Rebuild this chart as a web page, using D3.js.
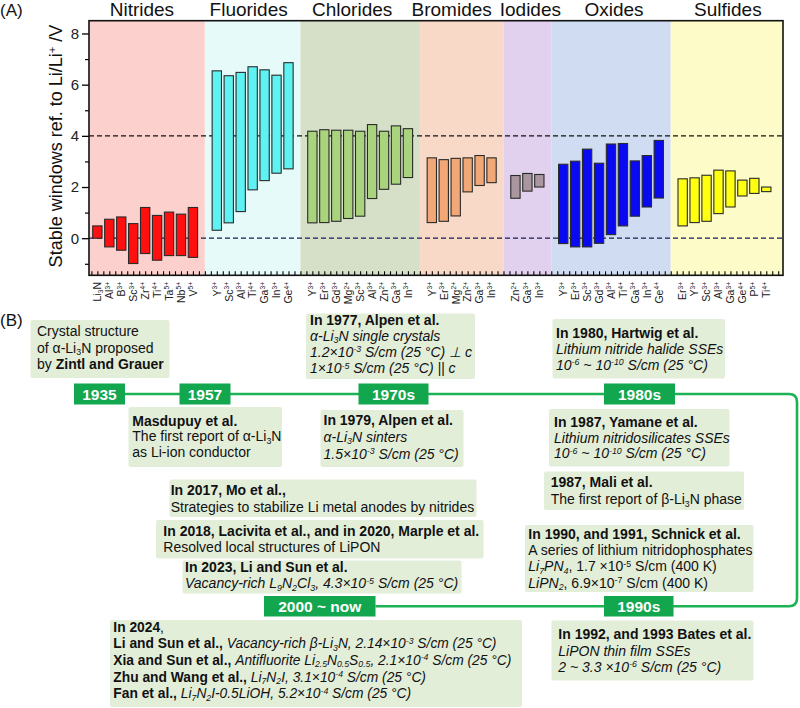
<!DOCTYPE html>
<html>
<head>
<meta charset="utf-8">
<script src="https://cdn.jsdelivr.net/npm/d3@7"></script>
<style>
  body { margin: 0; background: #fff; }
  svg text { font-family: "Liberation Sans", Arial, sans-serif; white-space: pre; }
</style>
</head>
<body>
<script>
// ---------- panel A data ----------
var groupNames = ["Nitrides", "Fluorides", "Chlorides", "Bromides", "Iodides", "Oxides", "Sulfides"];

var ions = [
    ["Li<sub>3</sub>N", "Al<sup>3+</sup>", "B<sup>3+</sup>", "Sc<sup>3+</sup>", "Zr<sup>4+</sup>", "Ti<sup>4+</sup>", "Ta<sup>5+</sup>", "Nb<sup>5+</sup>", "V<sup>5+</sup>"],
    ["Y<sup>3+</sup>", "Sc<sup>3+</sup>", "Al<sup>3+</sup>", "Ti<sup>4+</sup>", "Ga<sup>3+</sup>", "In<sup>3+</sup>", "Ge<sup>4+</sup>"],
    ["Y<sup>3+</sup>", "Er<sup>3+</sup>", "Gd<sup>3+</sup>", "Mg<sup>2+</sup>", "Sc<sup>3+</sup>", "Al<sup>3+</sup>", "Zn<sup>2+</sup>", "Ga<sup>3+</sup>", "In<sup>3+</sup>"],
    ["Y<sup>3+</sup>", "Er<sup>3+</sup>", "Mg<sup>2+</sup>", "Zn<sup>2+</sup>", "Ga<sup>3+</sup>", "In<sup>3+</sup>"],
    ["Zn<sup>2+</sup>", "Ga<sup>3+</sup>", "In<sup>3+</sup>"],
    ["Y<sup>3+</sup>", "Er<sup>3+</sup>", "Sc<sup>3+</sup>", "Gd<sup>3+</sup>", "Al<sup>3+</sup>", "Ti<sup>4+</sup>", "Ga<sup>3+</sup>", "In<sup>3+</sup>", "Ge<sup>4+</sup>"],
    ["Er<sup>3+</sup>", "Y<sup>3+</sup>", "Sc<sup>3+</sup>", "Al<sup>3+</sup>", "Ga<sup>3+</sup>", "Ge<sup>4+</sup>", "P<sup>5+</sup>", "Ti<sup>4+</sup>"]
];

// lower / upper limit of the stable window (V vs Li/Li+)
var windowLow = [
    [0.00, -0.34, -0.47, -0.99, -0.60, -0.86, -0.68, -0.68, -0.75],
    [0.31, 0.60, 1.04, 1.89, 2.25, 2.54, 2.71],
    [0.60, 0.61, 0.66, 0.77, 0.86, 1.55, 1.91, 2.11, 2.37],
    [0.61, 0.66, 0.87, 1.81, 2.06, 2.17],
    [1.56, 1.84, 2.00],
    [-0.21, -0.34, -0.34, -0.20, 0.14, 0.48, 0.86, 1.22, 1.57],
    [0.48, 0.61, 0.66, 0.96, 1.22, 1.65, 1.75, 1.82]
];
var windowHigh = [
    [0.48, 0.74, 0.83, 0.57, 1.20, 0.89, 1.02, 0.94, 1.20],
    [6.54, 6.35, 6.48, 6.70, 6.58, 6.37, 6.86],
    [4.18, 4.24, 4.22, 4.22, 4.18, 4.44, 4.18, 4.39, 4.28],
    [3.14, 3.07, 3.12, 3.14, 3.23, 3.14],
    [2.45, 2.53, 2.49],
    [2.89, 3.01, 3.48, 2.93, 3.68, 3.70, 3.02, 3.23, 3.82],
    [2.32, 2.36, 2.46, 2.66, 2.63, 2.27, 2.34, 2.00]
];
var yTicks = [0, 2, 4, 6, 8];
var yMinorTicks = [-1, 1, 3, 5, 7];
var refLines = [4, 0];

var groupBg = ["#fcd0cc", "#e6fbf9", "#d6e0c9", "#f8d8c6", "#e1d1ef", "#cfdcf1", "#fdfcc8"];
var groupFill = ["#ff1010", "#5ef2f2", "#a9d47d", "#f2a876", "#a9969f", "#0a0af0", "#ffff10"];
var titleShift = [-5, -4, -8, -10, 3, 3, 1];

// ---------- panel B data ----------
var periods = ["1935", "1957", "1970s", "1980s", "1990s", "2000 ~ now"];

var noteText = [
    ["Crystal structure", "of α-Li<sub>3</sub>N proposed", "by <b>Zintl and Grauer</b>"],
    ["<b>Masdupuy et al.</b>", "The first report of α-Li<sub>3</sub>N", "as Li-ion conductor"],
    ["<b>In 1977, Alpen et al.</b>", "<i>α-Li<sub>3</sub>N single crystals</i>", "<i>1.2×10<sup>-3</sup> S/cm (25 °C) ⊥ c</i>", "<i>1×10<sup>-5</sup> S/cm (25 °C) || c</i>"],
    ["<b>In 1979, Alpen et al.</b>", "<i>α-Li<sub>3</sub>N sinters</i>", "<i>1.5×10<sup>-3</sup> S/cm (25 °C)</i>"],
    ["<b>In 1980, Hartwig et al.</b>", "<i>Lithium nitride halide SSEs</i>", "<i>10<sup>-6</sup> ~ 10<sup>-10</sup> S/cm (25 °C)</i>"],
    ["<b>In 1987, Yamane et al.</b>", "<i>Lithium nitridosilicates SSEs</i>", "<i>10<sup>-6</sup> ~ 10<sup>-10</sup> S/cm (25 °C)</i>"],
    ["<b>1987, Mali et al.</b>", "The first report of β-Li<sub>3</sub>N phase"],
    ["<b>In 1990, and 1991, Schnick et al.</b>", "A series of lithium nitridophosphates", "<i>Li<sub>7</sub>PN<sub>4</sub></i>, 1.7 ×10<sup>-5</sup> S/cm (400 K)", "<i>LiPN<sub>2</sub></i>, 6.9×10<sup>-7</sup> S/cm (400 K)"],
    ["<b>In 1992, and 1993 Bates et al.</b>", "<i>LiPON thin film SSEs</i>", "<i>2 ~ 3.3 ×10<sup>-6</sup> S/cm (25 °C)</i>"],
    ["<b>In 2017, Mo et al.,</b>", "Strategies to stabilize Li metal anodes by nitrides"],
    ["<b>In 2018, Lacivita et al., and in 2020, Marple et al.</b>", "Resolved local structures of LiPON"],
    ["<b>In 2023, Li and Sun et al.</b>", "<i>Vacancy-rich L<sub>9</sub>N<sub>2</sub>Cl<sub>3</sub>, 4.3×10<sup>-5</sup> S/cm (25 °C)</i>"],
    ["<b>In 2024</b>,",
     "<b>Li and Sun et al.,</b> <i>Vacancy-rich β-Li<sub>3</sub>N, 2.14×10<sup>-3</sup> S/cm (25 °C)</i>",
     "<b>Xia and Sun et al.,</b> <i>Antifluorite Li<sub>2.5</sub>N<sub>0.5</sub>S<sub>0.5</sub>, 2.1×10<sup>-4</sup> S/cm (25 °C)</i>",
     "<b>Zhu and Wang et al.,</b> <i>Li<sub>7</sub>N<sub>2</sub>I, 3.1×10<sup>-4</sup> S/cm (25 °C)</i>",
     "<b>Fan et al.,</b> <i>Li<sub>7</sub>N<sub>2</sub>I-0.5LiOH, 5.2×10<sup>-4</sup> S/cm (25 °C)</i>"]
];

// layout of panel B (x, y, w, h)
var periodBoxes = [
    [74, 383.5, 51, 21], [179.5, 383.5, 51, 21], [358.5, 383.5, 70, 21],
    [604, 383.5, 71, 21], [604, 596, 69.5, 20.5], [264, 596, 111.5, 20.5]
];
// x, y, w, h, text x, first baseline, line step, font size
var noteBoxes = [
    [30.5, 320, 139, 58, 37, 335.7, 16.8, 14],
    [128.5, 407, 153.5, 60, 132.3, 425.7, 15.6, 14],
    [306, 313.5, 169, 65.5, 310, 324.5, 16.3, 14],
    [320.5, 410, 143, 57, 323.5, 424.5, 17, 14],
    [552.5, 319, 172.5, 59.5, 556, 338.3, 15.9, 14],
    [549, 409, 180.5, 57.5, 554, 426.7, 15.8, 14],
    [544, 471.5, 200, 38.5, 550.7, 487.3, 16.7, 14],
    [525, 525, 228.5, 67, 528.3, 538.5, 16.4, 14],
    [551.5, 620.5, 202, 60, 558.3, 639.3, 16.2, 14],
    [169.5, 479.5, 307, 37.5, 170.7, 495, 16.7, 14],
    [156, 520, 327.5, 38.5, 163.3, 536, 16.3, 14],
    [182.5, 560.5, 279, 33, 185, 571.7, 16.6, 14],
    [110, 620, 412, 87, 113.3, 631.5, 16.7, 13.8]
];

var width = 800, height = 708;
var svg = d3.select("body").append("svg")
    .attr("width", width)
    .attr("height", height);

// writes a line with <b>, <i>, <sup>, <sub> markup as tspans
function richText(sel, str, size) {
    var parts = str.split(/(<\/?(?:b|i|sup|sub)>)/).filter(function(s) { return s !== ""; });
    var bold = false, ital = false, shift = 0, cur = 0, small = false;
    parts.forEach(function(p) {
        if (p === "<b>") bold = true;
        else if (p === "</b>") bold = false;
        else if (p === "<i>") ital = true;
        else if (p === "</i>") ital = false;
        else if (p === "<sup>") { shift = -0.33 * size; small = true; }
        else if (p === "<sub>") { shift = 0.18 * size; small = true; }
        else if (p === "</sup>" || p === "</sub>") { shift = 0; small = false; }
        else {
            var t = sel.append("tspan").text(p);
            if (bold) t.attr("font-weight", "bold");
            if (ital) t.attr("font-style", "italic");
            if (small) t.attr("font-size", size * 0.63);
            if (shift !== cur) { t.attr("dy", shift - cur); cur = shift; }
        }
    });
}

// ================= Panel A =================
var plot = {left: 89, right: 783, top: 20.7, bottom: 275.3};

var x = d3.scaleLinear().domain([-0.7, 57.4]).range([plot.left, plot.right]);
var y = d3.scaleLinear().domain([-1.45, 8.5]).range([plot.bottom, plot.top]);

var starts = [], s = 0;
ions.forEach(function(g) { starts.push(s); s += g.length + 1; });

var groups = groupNames.map(function(name, gi) {
    var lo = gi === 0 ? x.domain()[0] : starts[gi] - 1;
    var hi = gi === groupNames.length - 1 ? x.domain()[1] : starts[gi] + ions[gi].length;
    return {name: name, gi: gi, lo: lo, hi: hi};
});

var bars = [];
ions.forEach(function(g, gi) {
    g.forEach(function(ion, i) {
        bars.push({gi: gi, slot: starts[gi] + i, ion: ion, low: windowLow[gi][i], high: windowHigh[gi][i]});
    });
});

var gA = svg.append("g");

gA.selectAll("rect.bg")
    .data(groups)
    .enter()
    .append("rect")
    .attr("class", "bg")
    .attr("x", function(d) { return x(d.lo); })
    .attr("width", function(d) { return x(d.hi) - x(d.lo); })
    .attr("y", plot.top)
    .attr("height", plot.bottom - plot.top)
    .attr("fill", function(d) { return groupBg[d.gi]; });

gA.selectAll("line.ref")
    .data(refLines)
    .enter()
    .append("line")
    .attr("x1", plot.left)
    .attr("x2", plot.right)
    .attr("y1", function(d) { return y(d); })
    .attr("y2", function(d) { return y(d); })
    .attr("stroke", function(d) { return d === 0 ? "#1a1a55" : "#111"; })
    .attr("stroke-width", 1.3)
    .attr("stroke-dasharray", "5,3");

var bw = 0.78 * (x(1) - x(0));
gA.selectAll("rect.bar")
    .data(bars)
    .enter()
    .append("rect")
    .attr("class", "bar")
    .attr("x", function(d) { return x(d.slot) - bw / 2; })
    .attr("width", bw)
    .attr("y", function(d) { return y(d.high); })
    .attr("height", function(d) { return y(d.low) - y(d.high); })
    .attr("fill", function(d) { return groupFill[d.gi]; })
    .attr("stroke", "#2a2a2a")
    .attr("stroke-width", 1.1);

// axes
var yAxis = gA.append("g")
    .attr("transform", "translate(" + plot.left + ",0)")
    .call(d3.axisLeft(y).tickValues(yTicks).tickSize(7).tickPadding(3));
yAxis.select(".domain").remove();
yAxis.selectAll("text")
    .style("font-family", "'Liberation Sans', Arial, sans-serif")
    .style("font-size", "15px")
    .attr("fill", "#222");
yAxis.selectAll("line").attr("stroke-width", 1.3);

var yMinor = gA.append("g")
    .attr("transform", "translate(" + plot.left + ",0)")
    .call(d3.axisLeft(y).tickValues(yMinorTicks).tickSize(4).tickFormat(""));
yMinor.select(".domain").remove();
yMinor.selectAll("line").attr("stroke-width", 1.2);

var xAxis = gA.append("g")
    .attr("transform", "translate(0," + plot.bottom + ")")
    .call(d3.axisBottom(x).tickValues(d3.range(-0.5, 57.5, 0.5)).tickSize(-4).tickFormat(""));
xAxis.select(".domain").remove();
xAxis.selectAll("line").attr("stroke-width", 1.1);

gA.append("rect")
    .attr("x", plot.left)
    .attr("y", plot.top)
    .attr("width", plot.right - plot.left)
    .attr("height", plot.bottom - plot.top)
    .attr("fill", "none")
    .attr("stroke", "#111")
    .attr("stroke-width", 1.6);

// x labels, rotated
gA.selectAll("text.ion")
    .data(bars)
    .enter()
    .append("text")
    .attr("class", "ion")
    .attr("text-anchor", "end")
    .attr("font-size", 10.5)
    .attr("fill", "#222")
    .attr("transform", function(d) { return "translate(" + (x(d.slot) + 3.8) + ",282) rotate(-90)"; })
    .each(function(d) { richText(d3.select(this), d.ion, 10.5); });

// group titles
gA.selectAll("text.title")
    .data(groups)
    .enter()
    .append("text")
    .attr("class", "title")
    .attr("text-anchor", "middle")
    .attr("x", function(d) { return (x(d.lo) + x(d.hi)) / 2 + titleShift[d.gi]; })
    .attr("y", 15.5)
    .attr("font-size", 19)
    .attr("fill", "#111")
    .text(function(d) { return d.name; });

var yTitle = gA.append("text")
    .attr("text-anchor", "middle")
    .attr("transform", "translate(61.5," + ((plot.top + plot.bottom) / 2 - 2) + ") rotate(-90)")
    .attr("font-size", 18)
    .attr("fill", "#111");
richText(yTitle, "Stable windows ref. to Li/Li<sup>+</sup> /V", 18);

svg.append("text").attr("x", 0).attr("y", 16).attr("font-size", 17).attr("fill", "#111").text("(A)");

// ================= Panel B =================
var green = "#12a64e";
svg.append("text").attr("x", 0).attr("y", 326).attr("font-size", 17).attr("fill", "#111").text("(B)");

var pTop = periodBoxes[0], p90 = periodBoxes[4], pNow = periodBoxes[5];
var lineTop = pTop[1] + pTop[3] / 2, lineBot = p90[1] + p90[3] / 2, xR = 797, r = 8;
var path = d3.path();
path.moveTo(pTop[0] + pTop[2], lineTop);
path.lineTo(xR - r, lineTop);
path.quadraticCurveTo(xR, lineTop, xR, lineTop + r);
path.lineTo(xR, lineBot - r);
path.quadraticCurveTo(xR, lineBot, xR - r, lineBot);
path.lineTo(pNow[0] + pNow[2], lineBot);
svg.append("path")
    .attr("d", path.toString())
    .attr("fill", "none")
    .attr("stroke", "#1db253")
    .attr("stroke-width", 2.6);

var notes = svg.selectAll("g.note")
    .data(noteText)
    .enter()
    .append("g")
    .attr("class", "note");

notes.append("rect")
    .attr("x", function(d, i) { return noteBoxes[i][0]; })
    .attr("y", function(d, i) { return noteBoxes[i][1]; })
    .attr("width", function(d, i) { return noteBoxes[i][2]; })
    .attr("height", function(d, i) { return noteBoxes[i][3]; })
    .attr("rx", 2)
    .attr("fill", "#e3eed9");

notes.each(function(lines, i) {
    var g = d3.select(this), L = noteBoxes[i];
    lines.forEach(function(line, k) {
        var t = g.append("text")
            .attr("x", L[4])
            .attr("y", L[5] + k * L[6])
            .attr("font-size", L[7])
            .attr("fill", "#111");
        richText(t, line, L[7]);
    });
});

var nodes = svg.selectAll("g.period")
    .data(periods)
    .enter()
    .append("g")
    .attr("class", "period");

nodes.append("rect")
    .attr("x", function(d, i) { return periodBoxes[i][0]; })
    .attr("y", function(d, i) { return periodBoxes[i][1]; })
    .attr("width", function(d, i) { return periodBoxes[i][2]; })
    .attr("height", function(d, i) { return periodBoxes[i][3]; })
    .attr("fill", green);

nodes.append("text")
    .attr("text-anchor", "middle")
    .attr("x", function(d, i) { return periodBoxes[i][0] + periodBoxes[i][2] / 2; })
    .attr("y", function(d, i) { return periodBoxes[i][1] + periodBoxes[i][3] / 2 + 5.6; })
    .attr("font-size", 15.5)
    .attr("font-weight", "bold")
    .attr("fill", "#fff")
    .text(function(d) { return d; });
</script>
</body>
</html>
